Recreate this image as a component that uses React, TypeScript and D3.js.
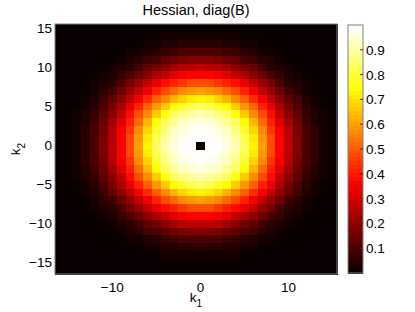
import React from 'react'
import * as d3 from 'd3'

// one quadrant of the map, in percent: row = |k2|, column = |k1|
const quadrant: number[][] = [
  [0, 100, 99, 96, 91, 83, 72, 60, 48, 37, 27, 18, 10, 5, 2, 1, 0],
  [100, 100, 98, 95, 90, 82, 71, 59, 47, 36, 26, 18, 10, 5, 2, 1, 0],
  [99, 98, 96, 93, 87, 79, 68, 57, 45, 35, 25, 17, 10, 5, 2, 1, 0],
  [96, 95, 93, 89, 83, 74, 64, 53, 42, 32, 23, 15, 9, 4, 2, 1, 0],
  [91, 90, 87, 83, 76, 67, 57, 47, 38, 28, 20, 13, 7, 4, 2, 1, 0],
  [83, 82, 79, 74, 67, 59, 50, 41, 33, 24, 17, 10, 5, 3, 1, 0, 0],
  [72, 71, 68, 64, 57, 50, 43, 35, 27, 20, 13, 8, 4, 2, 1, 0, 0],
  [60, 59, 57, 53, 47, 41, 35, 28, 21, 15, 9, 5, 3, 1, 1, 0, 0],
  [48, 47, 45, 42, 38, 33, 27, 21, 16, 10, 6, 4, 2, 1, 0, 0, 0],
  [37, 36, 35, 32, 28, 24, 20, 15, 10, 7, 4, 2, 1, 0, 0, 0, 0],
  [27, 26, 25, 23, 20, 17, 13, 9, 6, 4, 2, 1, 1, 0, 0, 0, 0],
  [18, 18, 17, 15, 13, 10, 8, 5, 4, 2, 1, 1, 0, 0, 0, 0, 0],
  [10, 10, 10, 9, 7, 5, 4, 3, 2, 1, 1, 0, 0, 0, 0, 0, 0],
  [5, 5, 5, 4, 4, 3, 2, 1, 1, 0, 0, 0, 0, 0, 0, 0, 0],
  [2, 2, 2, 2, 2, 1, 1, 1, 0, 0, 0, 0, 0, 0, 0, 0, 0],
  [1, 1, 1, 1, 1, 0, 0, 0, 0, 0, 0, 0, 0, 0, 0, 0, 0],
  [0, 0, 0, 0, 0, 0, 0, 0, 0, 0, 0, 0, 0, 0, 0, 0, 0],
]

const kValues = [-16, -15, -14, -13, -12, -11, -10, -9, -8, -7, -6, -5, -4, -3, -2, -1,
  0, 1, 2, 3, 4, 5, 6, 7, 8, 9, 10, 11, 12, 13, 14, 15]
const xTicks = [-10, 0, 10]
const yTicks = [-15, -10, -5, 0, 5, 10, 15]
const cbTicks = [0.1, 0.2, 0.3, 0.4, 0.5, 0.6, 0.7, 0.8, 0.9]

const width = 415
const height = 312
const nColors = 64
const cmax = 1.0

// matlab hot(64)
function hot(i: number) {
  const n = 24
  const r = i < n ? (i + 1) / n : 1
  const g = i < n ? 0 : i < 2 * n ? (i - n + 1) / n : 1
  const b = i < 2 * n ? 0 : (i - 2 * n + 1) / (nColors - 2 * n)
  return d3.rgb(r * 255, g * 255, b * 255).formatHex()
}

function colorOf(v: number) {
  const idx = Math.max(0, Math.min(nColors - 1, Math.floor((v / cmax) * nColors)))
  return hot(idx)
}

export default function App() {
  const x = d3.scaleLinear().domain([-16.5, 15.5]).range([55, 337])
  const y = d3.scaleLinear().domain([15.5, -16.5]).range([24, 274])
  const cb = d3.scaleLinear().domain([0, cmax]).range([273, 25])
  const cbX0 = 348
  const cbX1 = 363

  const font = '"Liberation Sans", Arial, Helvetica, sans-serif'

  const cells: { k1: number; k2: number; v: number }[] = []
  kValues.forEach(k2 => {
    kValues.forEach(k1 => {
      cells.push({ k1, k2, v: quadrant[Math.abs(k2)][Math.abs(k1)] / 100 })
    })
  })

  const bands = d3.range(nColors)

  return (
    <svg width={width} height={height} style={{ position: 'absolute', left: 0, top: 0, background: '#fff' }}
      fontFamily={font}>
      <g shapeRendering="crispEdges">
        {cells.map((c, i) => (
          <rect key={i} x={x(c.k1 - 0.5)} y={y(c.k2 + 0.5)}
            width={x(c.k1 + 0.5) - x(c.k1 - 0.5) + 0.5}
            height={y(c.k2 - 0.5) - y(c.k2 + 0.5) + 0.5}
            fill={colorOf(c.v)} />
        ))}
      </g>
      <rect x={55} y={24} width={282} height={250} fill="none" stroke="#808080" strokeWidth={1} />

      {xTicks.map(t => (
        <text key={t} x={x(t)} y={292} fontSize={13.5} textAnchor="middle" fill="#000">
          {t < 0 ? '\u2212' + Math.abs(t) : t}
        </text>
      ))}
      {yTicks.map(t => (
        <text key={t} x={52} y={y(t) + 5} fontSize={13.5} textAnchor="end" fill="#000">
          {t < 0 ? '\u2212' + Math.abs(t) : t}
        </text>
      ))}

      <text x={196} y={302} fontSize={13.5} textAnchor="middle">
        k<tspan fontSize={10} dy={5}>1</tspan>
      </text>
      <text transform={`translate(20,${149}) rotate(-90)`} fontSize={13.5} textAnchor="middle">
        k<tspan fontSize={10} dy={5}>2</tspan>
      </text>

      <text x={196} y={15} fontSize={14.5} textAnchor="middle">Hessian, diag(B)</text>

      <g shapeRendering="crispEdges">
        {bands.map(i => (
          <rect key={i} x={cbX0} y={cb(((i + 1) / nColors) * cmax)} width={cbX1 - cbX0}
            height={cb((i / nColors) * cmax) - cb(((i + 1) / nColors) * cmax) + 0.5}
            fill={hot(i)} />
        ))}
      </g>
      <rect x={cbX0} y={25} width={cbX1 - cbX0} height={248} fill="none" stroke="#808080" strokeWidth={1} />
      {cbTicks.map(t => (
        <g key={t}>
          <line x1={cbX1 - 3} x2={cbX1} y1={cb(t)} y2={cb(t)} stroke="#333" />
          <text x={366} y={cb(t) + 5} fontSize={13.5} fill="#000">{t.toFixed(1)}</text>
        </g>
      ))}
    </svg>
  )
}
